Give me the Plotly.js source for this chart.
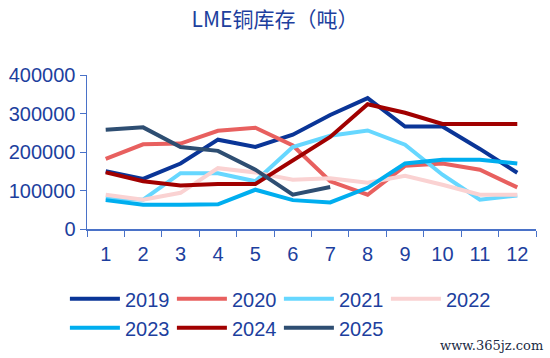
<!DOCTYPE html>
<html><head><meta charset="utf-8">
<script src="https://cdn.plot.ly/plotly-3.0.1.min.js"></script>
<style>body{margin:0;background:#fff}#c{width:550px;height:358px}</style>
</head><body><div id="c"></div>
<script>
const months = ["1","2","3","4","5","6","7","8","9","10","11","12"];
const s2019 = [150000,130000,170000,232000,213000,245000,296000,340000,266000,266000,208000,146000];
const s2020 = [182000,220000,222000,255000,263000,217000,124000,89000,164000,170000,154000,108000];
const s2021 = [80000,76000,145000,145000,124000,213000,242000,256000,219000,141000,76000,87000];
const s2022 = [89000,76000,94000,158000,147000,128000,132000,120000,138000,115000,89000,89000];
const s2023 = [75000,63000,63000,64000,102000,75000,69000,107000,170000,180000,180000,170000];
const s2024 = [147000,124000,113000,117000,117000,177000,239000,324000,302000,273000,273000,273000];
const s2025 = [258000,264000,213000,203000,154000,89000,109000];
const seriesNames = ["2019","2020","2021","2022","2023","2024","2025"];
const colors = ["#0A3597","#E8605F","#66D7FF","#FAD2D2","#00AEEF","#A10000","#2E4E72"];
const vals = [s2019,s2020,s2021,s2022,s2023,s2024,s2025];
const txt = "#1D3F9E";
const traces = vals.map((v,i)=>({
  type:"scatter", mode:"lines", name:seriesNames[i],
  x: months.slice(0, v.length), y: v,
  line:{color:colors[i], width:4}
}));
const layout = {
  width:550, height:358,
  margin:{l:87, r:14, t:75, b:129},
  paper_bgcolor:"#fff", plot_bgcolor:"#fff",
  font:{family:"Liberation Sans, Arial, sans-serif", color:txt, size:20},
  title:{text:"LME铜库存（吨）", x:0.5, xanchor:"center", y:0.945, yanchor:"middle",
    font:{family:"Noto Sans CJK SC, sans-serif", size:21, color:txt}},
  xaxis:{type:"category", range:[-0.5,11.5], tickson:"boundaries", ticks:"outside", ticklen:6,
    ticklabelstandoff:6,
    tickcolor:"#4A72C8", showline:true, linecolor:"#4A72C8", linewidth:1.5,
    showgrid:false, zeroline:false, tickfont:{size:20, color:txt}},
  yaxis:{range:[0,400000], tickvals:[0,100000,200000,300000,400000],
    ticktext:["0","100000","200000","300000","400000"],
    ticks:"outside", ticklen:6, tickcolor:"#4A72C8", showline:true,
    linecolor:"#4A72C8", linewidth:1.5, showgrid:false, zeroline:false,
    tickfont:{size:20, color:txt}},
  showlegend:true,
  legend:{orientation:"h", xref:"container", yref:"container", x:0.118, xanchor:"left", y:0.22, yanchor:"top",
    entrywidth:42, entrywidthmode:"pixels", font:{size:20, color:txt},
    itemwidth:50, tracegroupgap:0, bgcolor:"rgba(0,0,0,0)"},
  annotations:[{text:"www.365jz.com", xref:"paper", yref:"paper", x:1.02, y:-0.82,
    xanchor:"right", yanchor:"bottom", showarrow:false,
    font:{family:"DejaVu Serif, serif", size:13, color:"#1a2a44"}}]
};
Plotly.newPlot("c", traces, layout, {displayModeBar:false, staticPlot:true});
</script></body></html>
